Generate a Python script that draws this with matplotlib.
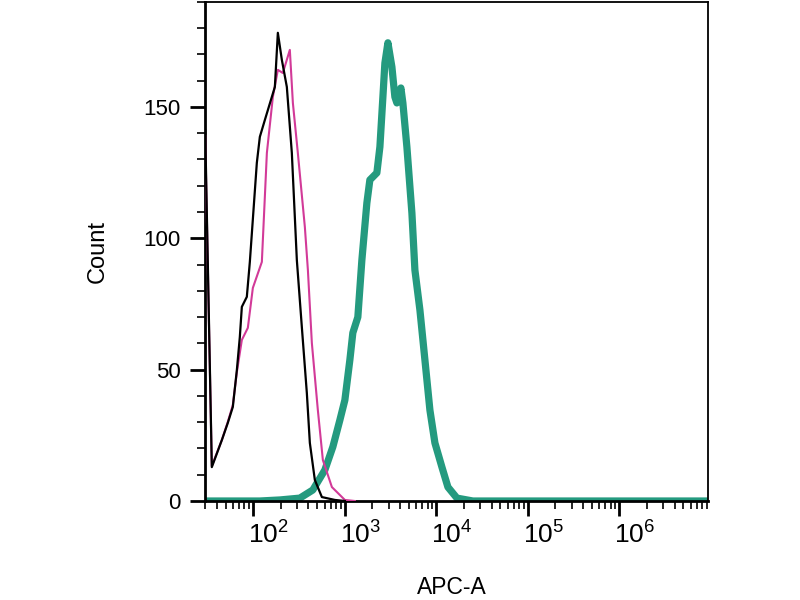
import numpy as np
import matplotlib
matplotlib.use("Agg")
import matplotlib.pyplot as plt
import matplotlib.ticker as mticker
import matplotlib.transforms as mtransforms

plt.rcParams['font.family'] = ['Liberation Sans', 'DejaVu Sans']
plt.rcParams['mathtext.fontset'] = 'custom'
plt.rcParams['mathtext.rm'] = 'Liberation Sans'

# isotype / unstained control (black)
black_x = [29.8, 35.2, 45.3, 52.6, 59.7, 66.1, 71.2, 74.9, 84.9, 91.6, 109.2, 117.8,
           133.6, 171.9, 185.3, 204.9, 232.3, 263.4, 298.8, 338.8, 384.2, 414.4,
           470.0, 560.7, 778.0, 1000.0]
black_y = [141, 12.9, 23.2, 29.7, 35.8, 49.9, 62.4, 73.9, 77.7, 91.0, 128.7, 138.6,
           145.0, 157.6, 178.2, 167.9, 157.6, 132.5, 91.7, 66.2, 41.1, 22.1,
           8.0, 1.5, 0.4, 0]

# second control (magenta)
pink_x = [29.8, 35.2, 45.3, 52.6, 59.7, 66.1, 74.9, 87.1, 98.8, 123.9, 140.6, 163.4,
          185.3, 210.0, 250.5, 270.4, 306.3, 365.5, 394.5, 435.9, 506.8, 574.9,
          721.6, 1000.0, 1285.0]
pink_y = [139, 13.3, 23.2, 30.1, 36.5, 49.1, 61.3, 65.9, 81.1, 91.0, 132.5, 153.8,
          164.1, 162.9, 171.7, 151.5, 132.5, 104.3, 87.9, 60.1, 34.6, 15.6,
          5.3, 0.4, 0]

# stained sample (green)
green_x = [29.8, 117.8, 195.0, 322.3, 446.7, 604.6, 739.0, 881.9, 1000, 1134, 1222,
           1386, 1534, 1739, 1875, 2237, 2414, 2603, 2737, 2953, 3265, 3518, 3700,
           4093, 4303, 4759, 5400, 5823, 6604, 7489, 8493, 9632, 11489, 13359,
           16760, 25050, 9.27e6]
green_y = [0, 0, 0.4, 1.1, 4.2, 11.8, 20.6, 30.8, 38.4, 53.7, 64.0,
           70.0, 91.7, 113.4, 122.2, 124.9, 134.8, 153.8, 166.7, 174.4, 165.2, 153.8, 151.5,
           157.2, 151.5, 134.8, 109.6, 87.9, 72.7, 53.7, 34.6, 22.1, 12.9, 5.3,
           1.1, 0, 0]

fig = plt.figure(figsize=(8, 6), dpi=100)
ax = fig.add_axes([0.256, 0.165, 0.629, 0.832])

ax.plot(green_x, green_y, color='#249a7f', lw=5.2, solid_joinstyle='round',
        solid_capstyle='round', zorder=2)
ax.plot(pink_x, pink_y, color='#d23a98', lw=1.5, solid_joinstyle='round', zorder=3)
ax.plot(black_x, black_y, color='black', lw=1.6, solid_joinstyle='round', zorder=4)

ax.set_xscale('log')
ax.set_xlim(29.5, 9.27e6)
ax.set_ylim(0, 190)

ax.xaxis.set_major_locator(mticker.LogLocator(base=10, numticks=20))
ax.xaxis.set_minor_locator(mticker.LogLocator(base=10, subs=np.arange(2, 10), numticks=20))
ax.xaxis.set_minor_formatter(mticker.NullFormatter())
ax.xaxis.set_major_formatter(mticker.FuncFormatter(
    lambda v, p: r'$\mathregular{10^{%d}}$' % round(np.log10(v))))
ax.yaxis.set_major_locator(mticker.MultipleLocator(50))
ax.yaxis.set_minor_locator(mticker.MultipleLocator(10))

ax.tick_params(axis='both', which='major', length=10.5, width=2, direction='out')
ax.tick_params(axis='both', which='minor', length=5.5, width=1.2, direction='out')
ax.tick_params(axis='x', which='major', pad=4, labelsize=19)
ax.tick_params(axis='y', which='major', pad=7, labelsize=16)

shift = mtransforms.ScaledTranslation(-5 / 100, 0, fig.dpi_scale_trans)
for lab in ax.get_xticklabels():
    lab.set_horizontalalignment('left')
    lab.set_transform(lab.get_transform() + shift)

for side in ['left', 'bottom']:
    ax.spines[side].set_linewidth(2)
for side in ['top', 'right']:
    ax.spines[side].set_linewidth(1.3)

ax.set_xlabel('APC-A', fontsize=16.5)
ax.set_ylabel('Count', fontsize=17)
ax.xaxis.set_label_coords(0.49, -0.15)
ax.yaxis.set_label_coords(-0.19, 0.5)

fig.savefig('out.png', dpi=100)
